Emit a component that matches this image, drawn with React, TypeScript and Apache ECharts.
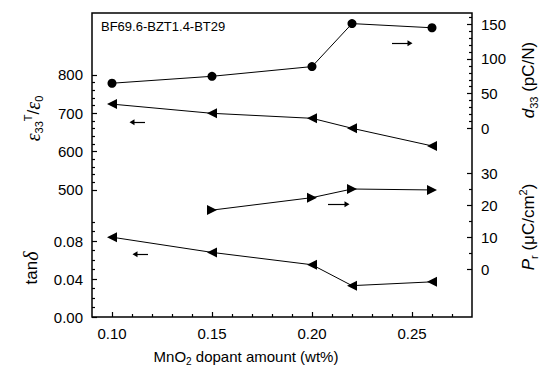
import React, { useEffect, useRef } from "react";
import * as echarts from "echarts";

// MnO2 dopant amount (wt%)
const mnO2 = [0.1, 0.15, 0.2, 0.22, 0.26];
// relative permittivity eps33T/eps0
const permittivity = [724, 700, 687, 661, 615];
// dielectric loss tan delta
const lossTangent = [0.084, 0.068, 0.055, 0.033, 0.037];
// piezoelectric constant d33 (pC/N)
const d33Values = [65, 75, 89, 151, 145];
// remanent polarization Pr (uC/cm2)
const prX = [0.15, 0.2, 0.22, 0.26];
const prValues = [18.5, 22.4, 25.1, 24.8];

// tick labels / tick positions
const xTicks = [0.1, 0.15, 0.2, 0.25];
const xMinor = [0.11, 0.12, 0.13, 0.14, 0.16, 0.17, 0.18, 0.19, 0.21, 0.22, 0.23, 0.24, 0.26, 0.27];
const epsTicks = [500, 600, 700, 800];
const epsMinor = [520, 540, 560, 580, 620, 640, 660, 680, 720, 740, 760, 780];
const tanTicks = [0, 0.04, 0.08];
const tanMinor = [0.01, 0.02, 0.03, 0.05, 0.06, 0.07, 0.09, 0.1];
const d33Ticks = [0, 50, 100, 150];
const d33Minor = [10, 20, 30, 40, 60, 70, 80, 90, 110, 120, 130, 140, 160];
const prTicks = [0, 10, 20, 30];
const prMinor = [5, 15, 25];

// axis extents (so every panel sits in its band of the shared frame)
const xRange = [0.09, 0.28];
const epsRange = [168.7, 961.7];
const tanRange = [0, 0.32];
const d33Range = [-272.2, 166.3];
const prRange = [-14.9, 80.1];

// annotation arrows: [from, to] in each series' own units
const epsArrow = [[0.1165, 677], [0.11, 677]];
const tanArrow = [[0.118, 0.066], [0.1115, 0.066]];
const d33Arrow = [[0.24, 122.6], [0.249, 122.6]];
const prArrow = [[0.208, 20.3], [0.2175, 20.3]];

const FONT = "Liberation Sans";

function yPair(position: string, range: number[], ticks: number[], minor: number[], fmt: (v: number) => string) {
  const base = {
    type: "value",
    gridIndex: 0,
    position,
    min: range[0],
    max: range[1],
    axisLine: { show: false, onZero: false },
    splitLine: { show: false },
  };
  return [
    {
      ...base,
      axisTick: { show: true, inside: true, length: 5, customValues: ticks, lineStyle: { color: "#000", width: 1.2 } },
      axisLabel: {
        show: true,
        customValues: ticks,
        formatter: (v: number) => fmt(v),
        margin: 9,
        color: "#000",
        fontSize: 15,
        fontFamily: FONT,
      },
    },
    {
      ...base,
      axisTick: { show: true, inside: true, length: 3, customValues: minor, lineStyle: { color: "#000", width: 1.2 } },
      axisLabel: { show: false },
    },
  ];
}

function arrowLine(a: number[][]) {
  return {
    silent: true,
    symbol: ["none", "triangle"],
    symbolSize: [6, 5],
    lineStyle: { color: "#000", width: 1.2, type: "solid" },
    itemStyle: { color: "#000" },
    label: { show: false },
    emphasis: { disabled: true },
    data: [[{ coord: a[0] }, { coord: a[1] }]],
  };
}

const rich = {
  n: { fontFamily: FONT, fontSize: 17, fill: "#000", lineHeight: 22 },
  ni: { fontFamily: FONT, fontStyle: "italic", fontSize: 17, fill: "#000", lineHeight: 22 },
  e: { fontFamily: "Liberation Serif", fontStyle: "italic", fontSize: 20, fill: "#000", lineHeight: 22 },
  s: { fontFamily: FONT, fontSize: 11, fill: "#000", lineHeight: 8, verticalAlign: "bottom" },
  p: { fontFamily: FONT, fontSize: 11, fill: "#000", lineHeight: 8, verticalAlign: "top" },
  xn: { fontFamily: FONT, fontSize: 15, fill: "#000", lineHeight: 20 },
  xs: { fontFamily: FONT, fontSize: 10, fill: "#000", lineHeight: 8, verticalAlign: "bottom" },
};

function vTitle(x: number, y: number, text: string) {
  return {
    type: "text",
    x,
    y,
    rotation: Math.PI / 2,
    style: { text, rich, align: "center", verticalAlign: "middle", textAlign: "center", textVerticalAlign: "middle" },
  };
}

export default function App() {
  const ref = useRef<HTMLDivElement>(null);
  useEffect(() => {
    if (!ref.current) return;
    const chart = echarts.init(ref.current, null, { renderer: "svg" });
    const yAxes = [
      ...yPair("left", epsRange, epsTicks, epsMinor, (v) => String(v)),
      ...yPair("left", tanRange, tanTicks, tanMinor, (v) => v.toFixed(2)),
      ...yPair("right", d33Range, d33Ticks, d33Minor, (v) => String(v)),
      ...yPair("right", prRange, prTicks, prMinor, (v) => String(v)),
    ];
    const xBase = {
      type: "value",
      gridIndex: 0,
      position: "bottom",
      min: xRange[0],
      max: xRange[1],
      axisLine: { show: false, onZero: false },
      splitLine: { show: false },
    };
    const lineCommon = {
      type: "line",
      xAxisIndex: 0,
      itemStyle: { color: "#000" },
      lineStyle: { color: "#000", width: 1 },
      emphasis: { disabled: true },
      z: 3,
    };
    chart.setOption({
      animation: false,
      backgroundColor: "#fff",
      textStyle: { fontFamily: FONT },
      grid: {
        left: 92,
        top: 13,
        width: 380,
        height: 304,
        show: true,
        borderColor: "#000",
        borderWidth: 1.5,
        backgroundColor: "transparent",
        containLabel: false,
        outerBoundsMode: "none",
      },
      xAxis: [
        {
          ...xBase,
          axisTick: { show: true, inside: true, length: 5, customValues: xTicks, lineStyle: { color: "#000", width: 1.2 } },
          axisLabel: {
            show: true,
            customValues: xTicks,
            formatter: (v: number) => v.toFixed(2),
            margin: 9,
            color: "#000",
            fontSize: 15,
            fontFamily: FONT,
          },
        },
        {
          ...xBase,
          axisTick: { show: true, inside: true, length: 3, customValues: xMinor, lineStyle: { color: "#000", width: 1.2 } },
          axisLabel: { show: false },
        },
      ],
      yAxis: yAxes,
      series: [
        {
          ...lineCommon,
          name: "d33",
          yAxisIndex: 4,
          data: mnO2.map((x, i) => [x, d33Values[i]]),
          symbol: "circle",
          symbolSize: 9,
          markLine: arrowLine(d33Arrow),
        },
        {
          ...lineCommon,
          name: "eps",
          yAxisIndex: 0,
          data: mnO2.map((x, i) => [x, permittivity[i]]),
          symbol: "triangle",
          symbolSize: 10,
          symbolRotate: 90,
          markLine: arrowLine(epsArrow),
        },
        {
          ...lineCommon,
          name: "Pr",
          yAxisIndex: 6,
          data: prX.map((x, i) => [x, prValues[i]]),
          symbol: "triangle",
          symbolSize: 10,
          symbolRotate: -90,
          markLine: arrowLine(prArrow),
        },
        {
          ...lineCommon,
          name: "tan",
          yAxisIndex: 2,
          data: mnO2.map((x, i) => [x, lossTangent[i]]),
          symbol: "triangle",
          symbolSize: 10,
          symbolRotate: 90,
          markLine: arrowLine(tanArrow),
        },
      ],
      graphic: [
        {
          type: "text",
          x: 101,
          y: 26,
          style: {
            text: "BF69.6-BZT1.4-BT29",
            font: `13px "${FONT}"`,
            fill: "#000",
            align: "left",
            verticalAlign: "middle",
            textAlign: "left",
            textVerticalAlign: "middle",
          },
        },
        {
          type: "text",
          x: 246,
          y: 356,
          style: {
            text: "{xn|MnO}{xs|2}{xn| dopant amount (wt%)}",
            rich,
            align: "center",
            verticalAlign: "middle",
            textAlign: "center",
            textVerticalAlign: "middle",
          },
        },
        vTitle(33, 118.5, "{e|ε}{s|33}{p|T}{n|/}{e|ε}{s|0}"),
        vTitle(31, 268, "{n|tan}{e|δ}"),
        vTitle(528, 80, "{ni|d}{s|33}{n| (pC/N)}"),
        vTitle(528, 227, "{ni|P}{s|r}{n| (μC/cm}{p|2}{n|)}"),
      ],
    });
    return () => chart.dispose();
  }, []);
  return <div ref={ref} style={{ position: "fixed", left: 0, top: 0, width: 539, height: 376 }} />;
}
